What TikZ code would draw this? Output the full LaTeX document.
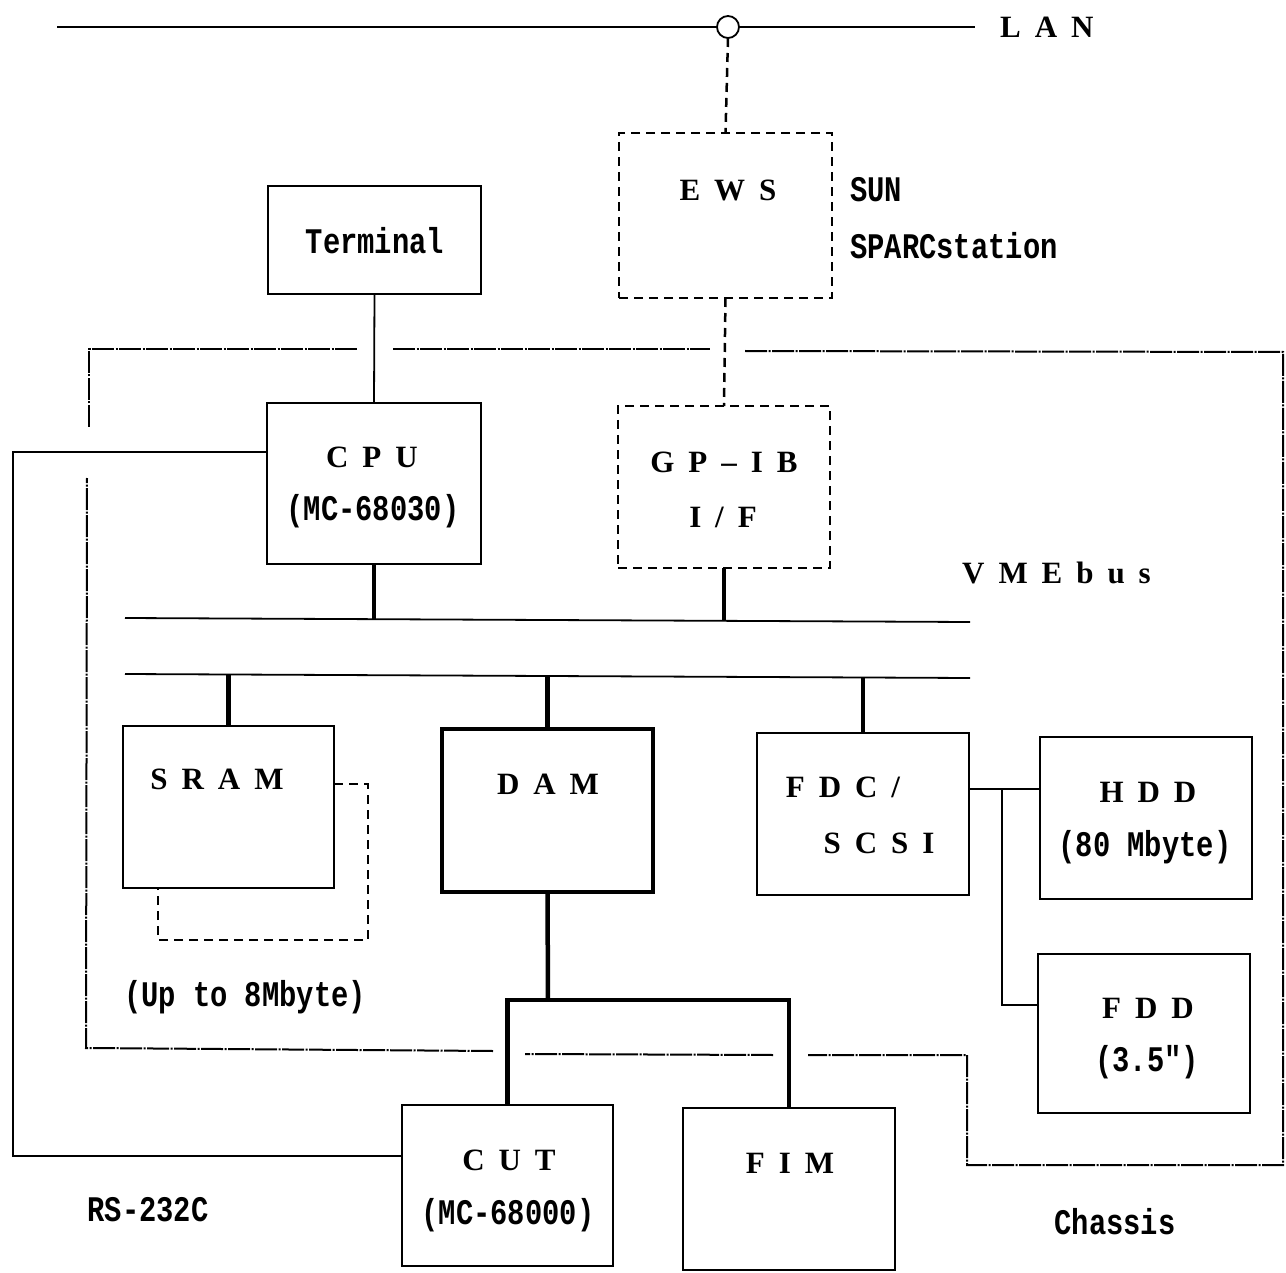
\documentclass[tikz,border=0pt]{standalone}
\usepackage{fontspec}
\setmainfont{Liberation Serif}
\newfontfamily\capfont{Liberation Serif}
\newfontfamily\monofont[FakeStretch=0.8]{Liberation Mono}
\newcommand\sgap{\hspace{0.45em}}
\begin{document}
\begin{tikzpicture}[x=1pt,y=-1pt,
  box/.style={draw, line width=2pt, inner sep=0pt, outer sep=0pt},
  dbox/.style={draw, line width=2.5pt, dash pattern=on 9pt off 6pt, inner sep=0pt, outer sep=0pt},
  thinline/.style={line width=1.8pt},
  busline/.style={line width=4.5pt},
  dline/.style={line width=2.5pt, dash pattern=on 9pt off 6pt},
  chassis/.style={line width=2pt, dash pattern=on 22pt off 1.5pt on 2pt off 1.5pt},
  captext/.style={font=\capfont\bfseries\fontsize{31}{31}\selectfont, inner sep=0pt},
  monotext/.style={font=\monofont\bfseries\fontsize{36}{36}\selectfont, inner sep=0pt}]
\useasboundingbox (0,0) rectangle (1286,1273);

% boxes
\node[box, minimum width=213pt, minimum height=108pt] (term) at (374.5,240) {};
\node[box, minimum width=214pt, minimum height=161pt] (cpu) at (374,483.5) {};
\node[dbox, minimum width=213pt, minimum height=165pt] (ews) at (725.5,215.5) {};
\node[dbox, minimum width=212pt, minimum height=162pt] (gpib) at (724,487) {};
\node[box, minimum width=211pt, minimum height=162pt] (sram) at (228.5,807) {};
\node[box, line width=3.5pt, minimum width=211pt, minimum height=163pt] (dam) at (547.5,810.5) {};
\node[box, minimum width=212pt, minimum height=162pt] (fdc) at (863,814) {};
\node[box, minimum width=212pt, minimum height=162pt] (hdd) at (1146,818) {};
\node[box, minimum width=212pt, minimum height=159pt] (fdd) at (1144,1033.5) {};
\node[box, minimum width=211pt, minimum height=161pt] (cut) at (507.5,1185.5) {};
\node[box, minimum width=212pt, minimum height=162pt] (fim) at (789,1189) {};

% LAN
\node[draw, circle, line width=1.8pt, minimum size=22pt, inner sep=0pt, outer sep=0pt] (lanc) at (728,27) {};
\coordinate (lanL) at (57,27);
\coordinate (lanR) at (975,27);
\draw[thinline] (lanL) -- (lanc.west);
\draw[thinline] (lanc.east) -- (lanR);
\node[captext, anchor=west] (lantxt) at (1000,27) {L\sgap A\sgap N};

\draw[dline] (lanc.south) -- (ews.north);
\draw[dline] (ews.south) -- (gpib.north);
\draw[thinline] (term.south) -- (cpu.north);

% VME bus
\coordinate (b1L) at (125,618);
\coordinate (b1R) at (970,622);
\coordinate (b2L) at (125,674);
\coordinate (b2R) at (970,678);
\draw[thinline] (b1L) -- (b1R);
\draw[thinline] (b2L) -- (b2R);
\draw[busline] (cpu.south) -- (cpu.south |- 0,619);
\draw[busline] (gpib.south) -- (gpib.south |- 0,621);
\draw[busline] (sram.north |- 0,675) -- (sram.north);
\draw[busline] (dam.south |- 0,676) -- (dam.north);
\draw[busline] (fdc.north |- 0,677) -- (fdc.north);

% FDC - HDD/FDD
\coordinate (jn) at (1002,789);
\draw[thinline] (fdc.east |- jn) -- (hdd.west |- jn);
\draw[thinline] (jn) |- (fdd.west |- 0,1005);

% DAM branch
\coordinate (br) at (548,1000);
\draw[busline] (dam.south) -- (br);
\draw[busline] (cut.north) -- (cut.north |- br) -- (fim.north |- br) -- (fim.north);

% RS-232C
\coordinate (rsA) at (13,452);
\draw[thinline] (cpu.west |- rsA) -- (rsA) |- (cut.west |- 0,1156);

% SRAM extension
\coordinate (sx1) at (368,784);
\coordinate (sx2) at (158,940);
\draw[dline] (sram.east |- sx1) -- (sx1) -- (368,940) -- (sx2) -- (sx2 |- sram.south);

% chassis outline
\draw[chassis] (89,427) -- (89,349) -- (357,349);
\draw[chassis] (393,349) -- (710,349);
\draw[chassis] (745,351) -- (1283,352) -- (1283,1165) -- (967,1165) -- (967,1055) -- (808,1055);
\draw[chassis] (773,1055) -- (525,1054);
\draw[chassis] (493,1051) -- (86,1048) -- (87,478);

% labels
\node[captext] (ewst) at (728,190) {E\sgap W\sgap S};
\node[monotext, anchor=west] (sun) at (850,190) {SUN};
\node[monotext, anchor=west] (sparc) at (850,246) {SPARCstation};
\node[monotext] (termt) at (375,241) {Terminal};
\node[captext] (cput) at (372,457) {C\sgap P\sgap U};
\node[monotext] (cpum) at (373,511) {(MC-68030)};
\node[captext] (gpt) at (724,462) {G\sgap P\sgap –\sgap I\sgap B};
\node[captext] (ift) at (723,517) {I\sgap /\sgap F};
\node[captext, anchor=west] (vme) at (962,573) {V\sgap M\sgap E\sgap b\sgap u\sgap s};
\node[captext] (sramt) at (217,779) {S\sgap R\sgap A\sgap M};
\node[monotext] (upto) at (245,997) {(Up to 8Mbyte)};
\node[captext] (damt) at (548,784) {D\sgap A\sgap M};
\node[captext] (fdct) at (843,787) {F\sgap D\sgap C\sgap /};
\node[captext] (scsit) at (879,843) {S\sgap C\sgap S\sgap I};
\node[captext] (hddt) at (1148,792) {H\sgap D\sgap D};
\node[monotext] (hddm) at (1145,847) {(80 Mbyte)};
\node[captext] (fddt) at (1148,1008) {F\sgap D\sgap D};
\node[monotext] (fddm) at (1147,1062) {(3.5")};
\node[captext] (cutt) at (509,1160) {C\sgap U\sgap T};
\node[monotext] (cutm) at (508,1215) {(MC-68000)};
\node[captext] (fimt) at (790,1163) {F\sgap I\sgap M};
\node[monotext] (rst) at (148,1210) {RS-232C};
\node[monotext] (chas) at (1115,1222) {Chassis};
\end{tikzpicture}
\end{document}
